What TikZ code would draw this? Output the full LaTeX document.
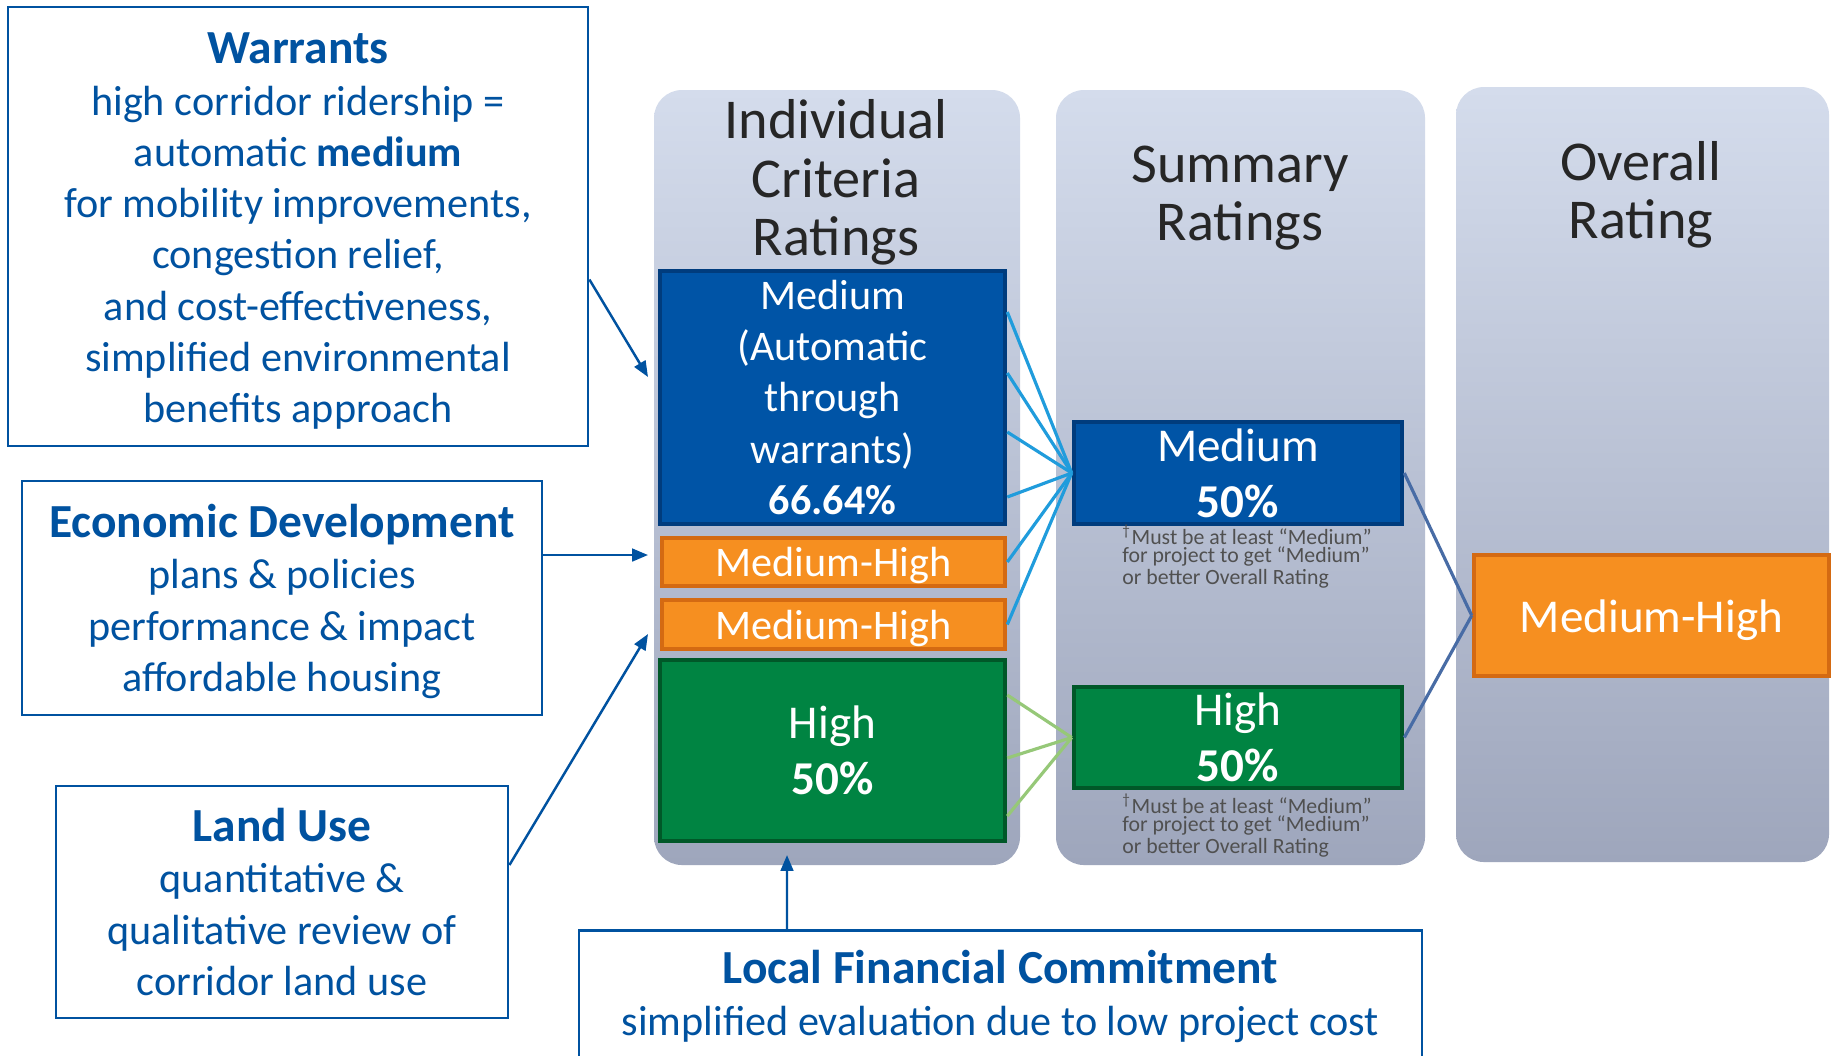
\documentclass[tikz,border=0pt]{standalone}
\usepackage{fontspec}
\setmainfont{Carlito}
\usepackage{tikz}
\usetikzlibrary{positioning,arrows.meta}

\definecolor{callblue}{RGB}{0,82,160}
\definecolor{ratemed}{RGB}{0,84,166}
\definecolor{ratemededge}{RGB}{0,60,125}
\definecolor{ratemh}{RGB}{246,143,32}
\definecolor{ratemhedge}{RGB}{212,106,18}
\definecolor{ratehigh}{RGB}{0,132,66}
\definecolor{ratehighedge}{RGB}{0,88,40}
\definecolor{paneltop}{RGB}{212,220,236}
\definecolor{panelbottom}{RGB}{158,166,188}
\definecolor{feedblue}{RGB}{32,156,220}
\definecolor{feedgreen}{RGB}{150,200,120}
\definecolor{feedsteel}{RGB}{72,108,165}
\definecolor{notegray}{RGB}{80,80,80}

\tikzset{
  callout/.style = {draw = callblue, line width = 0.8pt, fill = white, align = center, text = callblue, inner sep = 0pt, font = \fontsize{12}{14.6}\selectfont},
  panel/.style = {rounded corners = 0.28cm, top color = paneltop, bottom color = panelbottom, draw = none, minimum height = 7.75cm},
  head/.style = {align = center, text = black!85, font = \fontsize{16}{16.6}\selectfont},
  rating/.style = {line width = 1.3pt, text = white, align = center, inner sep = 0pt, font = \fontsize{12}{14.6}\selectfont},
  medbox/.style = {rating, fill = ratemed, draw = ratemededge},
  mhbox/.style = {rating, fill = ratemh, draw = ratemhedge},
  highbox/.style = {rating, fill = ratehigh, draw = ratehighedge},
  note/.style = {align = left, text = notegray, inner sep = 0pt, font = \fontsize{6.2}{5.1}\selectfont},
  feed/.style = {line width = 0.9pt},
  pointer/.style = {draw = callblue, line width = 0.7pt, -{Triangle[length = 4.5pt, width = 3.6pt]}}
}
\newcommand{\calltitle}[1]{{\fontsize{13.5}{15.6}\selectfont\bfseries #1}}
\newcommand{\bigrate}{\fontsize{13.4}{16}\selectfont}

\begin{document}
\begin{tikzpicture}
\useasboundingbox (0,0) rectangle (18.37,-10.55);
\fill[white] (0,0) rectangle (18.37,-10.55);

\node[panel, minimum width = 3.66cm] (col1) at (8.37,-4.775) {};
\node[panel, minimum width = 3.69cm] (col2) at (12.405,-4.775) {};
\node[panel, minimum width = 3.73cm] (col3) at (16.425,-4.745) {};

\node[head] (hd1) at (8.36,-1.825) {Individual\\Criteria\\Ratings};
\node[head] (hd2) at (12.40,-1.98) {Summary\\Ratings};
\node[head] (hd3) at (16.41,-1.945) {Overall\\Rating};

\node[medbox, minimum width = 3.45cm, minimum height = 2.53cm] (med1) at (8.325,-3.975) {Medium\\(Automatic\\through\\warrants)\\\textbf{66.64\%}};
\node[mhbox, minimum width = 3.43cm, minimum height = 0.48cm, text height = 11pt, text depth = 2.5pt] (mh1) at (8.335,-5.62) {Medium-High};
\node[mhbox, minimum width = 3.43cm, minimum height = 0.49cm, text height = 11pt, text depth = 2.5pt] (mh2) at (8.335,-6.245) {Medium-High};
\node[highbox, minimum width = 3.45cm, minimum height = 1.81cm, font = \bigrate] (high1) at (8.325,-7.505) {High\\\textbf{50\%}};

\node[medbox, minimum width = 3.28cm, minimum height = 1.02cm, font = \bigrate] (med2) at (12.38,-4.73) {Medium\\\textbf{50\%}};
\node[highbox, minimum width = 3.28cm, minimum height = 1.01cm, font = \bigrate] (high2) at (12.38,-7.375) {High\\\textbf{50\%}};
\node[note, below = -0.02cm of med2, xshift = 0.09cm] (note1) {\textsuperscript{†}Must be at least “Medium”\\for project to get “Medium”\\or better Overall Rating};
\node[note, below = 0.03cm of high2, xshift = 0.09cm] (note2) {\textsuperscript{†}Must be at least “Medium”\\for project to get “Medium”\\or better Overall Rating};

\node[mhbox, minimum width = 3.55cm, minimum height = 1.21cm, font = \bigrate, text height = 12.6pt, text depth = 2.7pt] (mh3) at (16.515,-6.155) {Medium-High};

\foreach \dy in {0.855,0.245,-0.345,-0.995}
  \draw[feed, feedblue] ([yshift = \dy cm]med1.east) -- (med2.west);
\draw[feed, feedblue] (mh1.east) -- (med2.west);
\draw[feed, feedblue] (mh2.east) -- (med2.west);
\foreach \dy in {0.555,-0.075,-0.655}
  \draw[feed, feedgreen] ([yshift = \dy cm]high1.east) -- (high2.west);
\draw[feed, feedsteel] (med2.east) -- (mh3.west);
\draw[feed, feedsteel] (high2.east) -- (mh3.west);

\node[callout, minimum width = 5.8cm, minimum height = 4.39cm] (warr) at (2.98,-2.265) {\calltitle{\rule{0pt}{11.5pt}Warrants}\\high corridor ridership =\\automatic \textbf{medium}\\for mobility improvements,\\congestion relief,\\and cost-effectiveness,\\simplified environmental\\benefits approach};
\node[callout, minimum width = 5.2cm, minimum height = 2.34cm] (econ) at (2.82,-5.98) {\calltitle{\rule{0pt}{11.5pt}Economic Development}\\plans \& policies\\performance \& impact\\affordable housing};
\node[callout, minimum width = 4.52cm, minimum height = 2.32cm] (land) at (2.82,-9.02) {\calltitle{Land Use}\\quantitative \&\\qualitative review of\\corridor land use};
\node[callout, minimum width = 8.43cm, minimum height = 1.32cm, anchor = north] (lfc) at (10.005,-9.29) {\calltitle{Local Financial Commitment}\\simplified evaluation due to low project cost};

\coordinate (warrtip) at (6.48,-3.77);
\coordinate (econtip) at (6.48,-5.55);
\coordinate (landtip) at (6.48,-6.34);
\coordinate (lfctip) at (7.87,-8.55);
\draw[pointer] ([yshift = -0.53cm]warr.east) -- (warrtip);
\draw[pointer] ([yshift = 0.43cm]econ.east) -- (econtip);
\draw[pointer] ([yshift = 0.37cm]land.east) -- (landtip);
\draw[pointer] ([xshift = -2.135cm]lfc.north) -- (lfctip);
\end{tikzpicture}
\end{document}
